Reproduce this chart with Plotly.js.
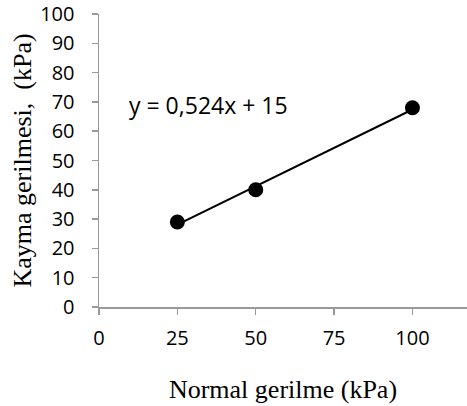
<!DOCTYPE html>
<html>
<head>
<meta charset="utf-8">
<script src="https://cdn.plot.ly/plotly-3.0.1.min.js"></script>
<style>html,body{margin:0;padding:0;background:#fff;}#chart{width:467px;height:406px;}</style>
</head>
<body>
<div id="chart"></div>
<script>
var normalStress = [25, 50, 100];
var shearStress = [29, 40, 68];
var slope = 0.524;
var intercept = 15;
var equationText = "y = 0,524x + 15";
var xTicks = [0, 25, 50, 75, 100];
var yTicks = [0, 10, 20, 30, 40, 50, 60, 70, 80, 90, 100];

var xMin = Math.min.apply(null, normalStress);
var xMax = Math.max.apply(null, normalStress);
var trendX = [xMin, xMax];
var trendY = trendX.map(function (x) { return slope * x + intercept; });

var traces = [
  {
    x: trendX, y: trendY, type: 'scatter', mode: 'lines',
    line: {color: '#000000', width: 2}, hoverinfo: 'skip', showlegend: false
  },
  {
    x: normalStress, y: shearStress, type: 'scatter', mode: 'markers',
    marker: {color: '#000000', size: 15}, showlegend: false
  }
];

var sansFont = '"Open Sans", Lato, sans-serif';
var serifFont = '"Liberation Serif", "Times New Roman", serif';

var axisCommon = {
  showgrid: false, zeroline: false, showline: true,
  linecolor: '#999999', linewidth: 1.5,
  ticks: 'outside', ticklen: 6, tickwidth: 1.5, tickcolor: '#999999',
  tickfont: {family: sansFont, size: 20, color: '#000000'}
};

var layout = {
  width: 467, height: 406,
  margin: {l: 99, r: 0, t: 14, b: 99, pad: 0},
  paper_bgcolor: '#ffffff', plot_bgcolor: '#ffffff',
  xaxis: Object.assign({}, axisCommon, {
    range: [0, 117.4], tickvals: xTicks, ticktext: xTicks.map(String),
    ticklabelstandoff: 6,
    title: {text: 'Normal gerilme (kPa)', font: {family: serifFont, size: 26, color: '#000000'}, standoff: 30}
  }),
  yaxis: Object.assign({}, axisCommon, {
    range: [0, 100], tickvals: yTicks, ticktext: yTicks.map(String),
    ticklabelstandoff: 13,
    title: {text: 'Kayma gerilmesi,  (kPa)', font: {family: serifFont, size: 26, color: '#000000'}, standoff: 1}
  }),
  annotations: [{
    x: 0.077, y: 0.69, xref: 'paper', yref: 'paper',
    xanchor: 'left', yanchor: 'middle', showarrow: false,
    text: equationText,
    font: {family: sansFont, size: 23, color: '#000000'}
  }]
};

Plotly.newPlot('chart', traces, layout, {staticPlot: true, displayModeBar: false});
</script>
</body>
</html>
